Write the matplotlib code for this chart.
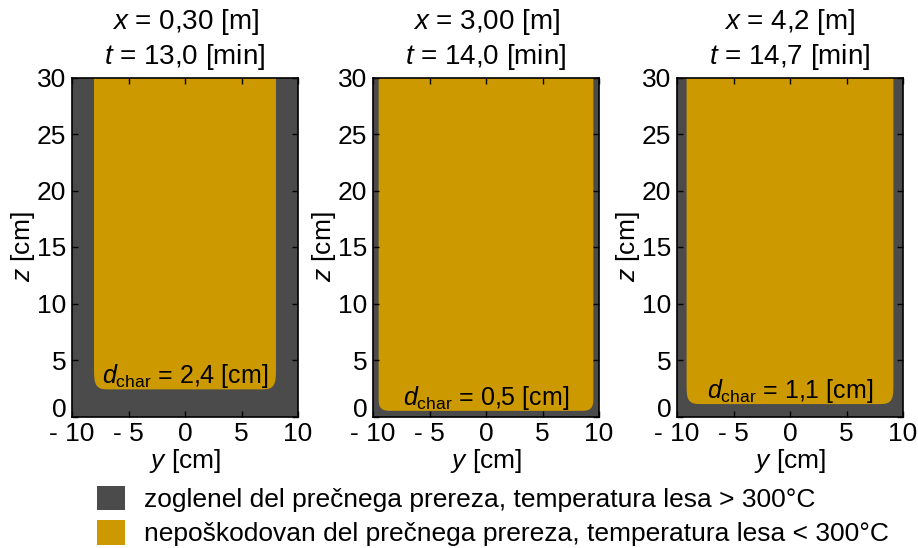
import matplotlib
matplotlib.use("Agg")
import matplotlib.pyplot as plt
from matplotlib.patches import Polygon, Patch
import numpy as np

plt.rcParams['font.family'] = ['Liberation Sans', 'DejaVu Sans']
plt.rcParams['mathtext.fontset'] = 'custom'
plt.rcParams['mathtext.rm'] = 'Liberation Sans'
plt.rcParams['mathtext.it'] = 'Liberation Sans:italic'
plt.rcParams['font.size'] = 19

# data
x_pos = ["0,30", "3,00", "4,2"]          # [m]
t_min = ["13,0", "14,0", "14,7"]         # [min]
d_char_lbl = ["2,4", "0,5", "1,1"]       # [cm]
d_bottom = [2.4, 0.5, 1.1]               # char depth at the bottom [cm]
d_side = [1.95, 0.5, 0.85]               # char depth at the sides [cm]
b_width = 20.0                           # cross-section width [cm]
h_height = 30.0                          # cross-section height [cm]
x_ticks = [-10, -5, 0, 5, 10]
x_ticklabels = ["- 10", "- 5", "0", "5", "10"]
y_ticks = [0, 5, 10, 15, 20, 25, 30]
y_ticklabels = ["0", "5", "10", "15", "20", "25", "30"]

col_char = "#4b4b4b"
col_wood = "#cc9900"

legend_labels = ["zoglenel del prečnega prereza, temperatura lesa > 300°C",
                 "nepoškodovan del prečnega prereza, temperatura lesa < 300°C"]


def wood_outline(ds, db, ry, rz, n=4.0):
    # residual section with rounded (superellipse) bottom corners
    xl = -b_width / 2 + ds
    xr = b_width / 2 - ds
    th = np.linspace(0, np.pi / 2, 40)
    cx = np.cos(th) ** (2 / n)
    sz = np.sin(th) ** (2 / n)
    left = np.column_stack([xl + ry - ry * cx, db + rz - rz * sz])
    right = np.column_stack([xr - ry + ry * cx[::-1], db + rz - rz * sz[::-1]])
    pts = [(xl, h_height)] + [tuple(p) for p in left] + [tuple(p) for p in right] + [(xr, h_height)]
    return pts


fig = plt.figure(figsize=(9.18, 5.48), dpi=100)
lefts = [72, 373, 677]
corner = [(1.5, 2.1), (1.4, 1.4), (1.5, 1.9)]

for i in range(3):
    ax = fig.add_axes([lefts[i] / 918, 131 / 548, 226 / 918, 340 / 548])
    ax.set_facecolor(col_char)
    ry, rz = corner[i]
    ax.add_patch(Polygon(wood_outline(d_side[i], d_bottom[i], ry, rz),
                         closed=True, facecolor=col_wood, edgecolor='none'))
    ax.set_xlim(-b_width / 2, b_width / 2)
    ax.set_ylim(0, h_height)
    ax.set_aspect('equal')
    ax.set_xticks(x_ticks)
    ax.set_xticklabels(x_ticklabels)
    ax.set_yticks(y_ticks)
    # the "0" label sits a bit higher, clear of the x labels
    ax.set_yticklabels([""] + y_ticklabels[1:])
    ax.annotate(y_ticklabels[0], xy=(0, y_ticks[0]), xycoords=('axes fraction', 'data'),
                xytext=(-4, 5), textcoords='offset points', ha='right', va='center',
                fontsize=19)
    ax.tick_params(direction='in', top=True, right=True, length=4, width=1,
                   labelsize=19)
    ax.tick_params(axis='x', pad=4)
    ax.tick_params(axis='y', pad=4)
    for s in ax.spines.values():
        s.set_linewidth(1.2)
    ax.set_xlabel("$y$ [cm]", fontsize=19, labelpad=1)
    ax.set_ylabel("$z$ [cm]", fontsize=19, labelpad=0)
    ax.set_title("$x$ = %s [m]\n$t$ = %s [min]" % (x_pos[i], t_min[i]),
                 fontsize=20, pad=10, linespacing=1.2)
    ax.text(0, d_bottom[i] + 1.15, r"$d_{\mathrm{char}}$ = %s [cm]" % d_char_lbl[i],
            ha='center', va='center', fontsize=18)

handles = [Patch(facecolor=col_char, edgecolor='none'),
           Patch(facecolor=col_wood, edgecolor='none')]
fig.legend(handles, legend_labels, loc='upper left',
           bbox_to_anchor=(97 / 918, 1 - 486 / 548), frameon=False,
           handlelength=1.05, handleheight=1.05, handletextpad=0.75,
           labelspacing=0.3, borderpad=0, borderaxespad=0, fontsize=19)

fig.savefig("out.png", dpi=100)
